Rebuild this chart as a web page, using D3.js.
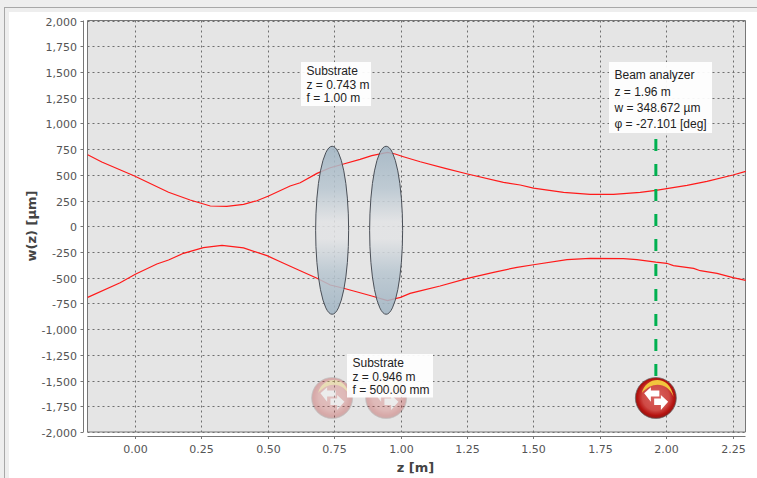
<!DOCTYPE html>
<html><head><meta charset="utf-8">
<script src="https://cdn.jsdelivr.net/npm/d3@7"></script>
<style>html,body{margin:0;padding:0;background:#eee;overflow:hidden}svg{display:block}</style>
</head><body><svg id="c" width="757" height="478"></svg>
<script>
const xTicks=[0,0.25,0.5,0.75,1,1.25,1.5,1.75,2,2.25];
const yTicks=[2000,1750,1500,1250,1000,750,500,250,0,-250,-500,-750,-1000,-1250,-1500,-1750,-2000];
const upperZ=[-0.176,-0.123,0,0.128,0.209,0.285,0.347,0.41,0.46,0.504,0.585,0.623,0.686,0.736,0.786,0.848,0.892,0.951,0.98,1.011,1.074,1.168,1.252,1.387,1.45,1.5,1.613,1.713,1.801,1.901,1.96,2.077,2.152,2.25,2.298];
const upperW=[695,624,488,330,255,197,194,213,248,294,391,423,514,569,605,650,686,718,702,676,627,563,508,427,401,371,330,310,310,330,349,398,437,498,534];
const lowerZ=[-0.176,-0.054,0.003,0.084,0.128,0.184,0.259,0.329,0.41,0.498,0.548,0.623,0.686,0.736,0.786,0.848,0.892,0.951,1.0,1.036,1.074,1.149,1.252,1.35,1.438,1.5,1.626,1.713,1.838,1.889,1.96,2.001,2.026,2.102,2.127,2.19,2.25,2.298];
const lowerW=[-691,-549,-467,-367,-328,-263,-208,-185,-211,-286,-345,-432,-506,-571,-603,-646,-678,-723,-691,-652,-629,-581,-506,-448,-399,-374,-325,-312,-315,-325,-349,-360,-383,-409,-432,-458,-500,-526];
const lensZ=[0.743,0.946];
const lensLabels=[["Substrate","z = 0.743 m","f = 1.00 m"],["Substrate","z = 0.946 m","f = 500.00 mm"]];
const analyzerZ=1.96;
const analyzerLabel=["Beam analyzer","z = 1.96 m","w = 348.672 µm","φ = -27.101 [deg]"];

const svg=d3.select("#c");
const L=87.5,R=745.5,T=20.5,B=432;
const x=d3.scaleLinear().domain([-0.1767,2.297]).range([L,R]);
const y=d3.scaleLinear().domain([-2000,2000]).range([B,T]);
const defs=svg.append("defs");
const g=defs.append("linearGradient").attr("id","lens").attr("x1",0).attr("y1",0).attr("x2",0).attr("y2",1);
[[0,"#9fb3c2"],[0.25,"#b8c6d0"],[0.45,"#e2e3e5"],[0.55,"#e2e3e5"],[0.75,"#b8c6d0"],[1,"#9fb3c2"]].forEach(s=>g.append("stop").attr("offset",s[0]).attr("stop-color",s[1]));
const ig=defs.append("radialGradient").attr("id","ball").attr("cx","50%").attr("cy","48%").attr("r","52%");
[[0,"#d9625f"],[0.62,"#cf4a45"],[0.86,"#b5120f"],[1,"#8a1c1a"]].forEach(s=>ig.append("stop").attr("offset",s[0]).attr("stop-color",s[1]));

svg.append("rect").attr("width",757).attr("height",478).attr("fill","#eee");
svg.append("rect").attr("x",4.5).attr("y",7.5).attr("width",770).attr("height",490).attr("fill","#fff").attr("stroke","#a8a8a8");
svg.append("rect").attr("x",5).attr("y",8).attr("width",770).attr("height",4).attr("fill","#eee");
svg.append("rect").attr("x",5).attr("y",8).attr("width",4).attr("height",490).attr("fill","#eee");
svg.append("rect").attr("x",L).attr("y",T).attr("width",R-L).attr("height",B-T).attr("fill","#e5e5e5");

const grid=svg.append("g").attr("stroke","#6e6e6e").attr("stroke-dasharray","2,3").attr("stroke-width",1);
xTicks.forEach(t=>grid.append("line").attr("x1",Math.round(x(t))+.5).attr("x2",Math.round(x(t))+.5).attr("y1",T).attr("y2",B));
yTicks.forEach(t=>grid.append("line").attr("x1",L).attr("x2",R).attr("y1",Math.round(y(t))+.5).attr("y2",Math.round(y(t))+.5));
svg.append("path").attr("d",`M${L},${B}V${T}H${R}V${B}H${L}`).attr("fill","none").attr("stroke","#777").attr("stroke-width",1);

const upper=d3.line().x((d,i)=>x(upperZ[i])).y(d=>y(d));
const lower=d3.line().x((d,i)=>x(lowerZ[i])).y(d=>y(d));
svg.append("path").attr("d",upper(upperW)).attr("fill","none").attr("stroke","#ff1a1a").attr("stroke-width",1.2);
svg.append("path").attr("d",lower(lowerW)).attr("fill","none").attr("stroke","#ff1a1a").attr("stroke-width",1.2);

lensZ.forEach(z=>{svg.append("ellipse").attr("cx",x(z)).attr("cy",y(-39)).attr("rx",16.5).attr("ry",84)
 .attr("fill","url(#lens)").attr("fill-opacity",.86).attr("stroke","#4a4f57").attr("stroke-width",1);});

svg.append("line").attr("x1",x(analyzerZ)).attr("x2",x(analyzerZ)).attr("y1",139).attr("y2",385)
 .attr("stroke","#00b050").attr("stroke-width",3).attr("stroke-dasharray","12,13");

function icon(cx,cy,op){
 const n=svg.append("g").attr("transform",`translate(${cx},${cy})`).attr("opacity",op);
 n.append("circle").attr("r",20.5).attr("fill","url(#ball)").attr("stroke","#666").attr("stroke-width",.7);
 n.append("path").attr("d","M-14,-5 C-10,-22 14,-24 17.7,-1 C12,-16 -4,-17 -14,-5Z").attr("fill","#f2c53d");
 n.append("path").attr("d","M-11.7,-4.7 L-5,-10.7 L-5,-7.5 L3.5,-7.5 L3.5,-1.5 L-5,-1.5 L-5,3.7Z").attr("fill","#fff");
 n.append("path").attr("d","M12.3,3.7 L5,-3 L5,0.5 L-1.7,0.5 L-1.7,7 L5,7 L5,12Z").attr("fill","#fff");
}
icon(x(lensZ[0]),398,.28);icon(x(lensZ[1]),398,.28);icon(x(analyzerZ),398,1);

function box(X,Y,W,H,lines,lh,ty){
 svg.append("rect").attr("x",X).attr("y",Y).attr("width",W).attr("height",H).attr("fill","#fff").attr("fill-opacity",.93);
 lines.forEach((s,i)=>svg.append("text").attr("x",X+5.5).attr("y",ty+i*lh).attr("font-family","Liberation Sans").attr("font-size",12).attr("fill","#222").text(s));
}
box(301,62,70,44,lensLabels[0],13.5,75);
box(347,354,86,43.5,lensLabels[1],13.7,367);
box(609,62,103,71,analyzerLabel,16.3,79.3);

const tf="DejaVu Sans";
svg.append("line").attr("x1",83.5).attr("x2",83.5).attr("y1",T).attr("y2",B).attr("stroke","#777");
svg.append("line").attr("x1",L).attr("x2",R).attr("y1",436.5).attr("y2",436.5).attr("stroke","#777");
yTicks.forEach(t=>{const p=Math.round(y(t))+.5;
 svg.append("line").attr("x1",80.5).attr("x2",83.5).attr("y1",p).attr("y2",p).attr("stroke","#777");
 svg.append("text").attr("x",77).attr("y",p+4).attr("text-anchor","end").attr("font-family",tf).attr("font-size",11).attr("fill","#555").text(d3.format(",")(t).replace("−","-"));
});
xTicks.forEach(t=>{const p=Math.round(x(t))+.5;
 svg.append("line").attr("x1",p).attr("x2",p).attr("y1",436.5).attr("y2",439).attr("stroke","#777");
 svg.append("text").attr("x",p).attr("y",453).attr("text-anchor","middle").attr("font-family",tf).attr("font-size",11).attr("fill","#555").text(d3.format(".2f")(t));
});
svg.append("text").attr("x",415.5).attr("y",472).attr("text-anchor","middle").attr("font-family",tf).attr("font-weight","bold").attr("font-size",13).attr("fill","#444").text("z [m]");
svg.append("text").attr("transform","translate(36,226) rotate(-90)").attr("text-anchor","middle").attr("font-family",tf).attr("font-weight","bold").attr("font-size",13).attr("fill","#444").text("w(z) [µm]");
</script></body></html>
